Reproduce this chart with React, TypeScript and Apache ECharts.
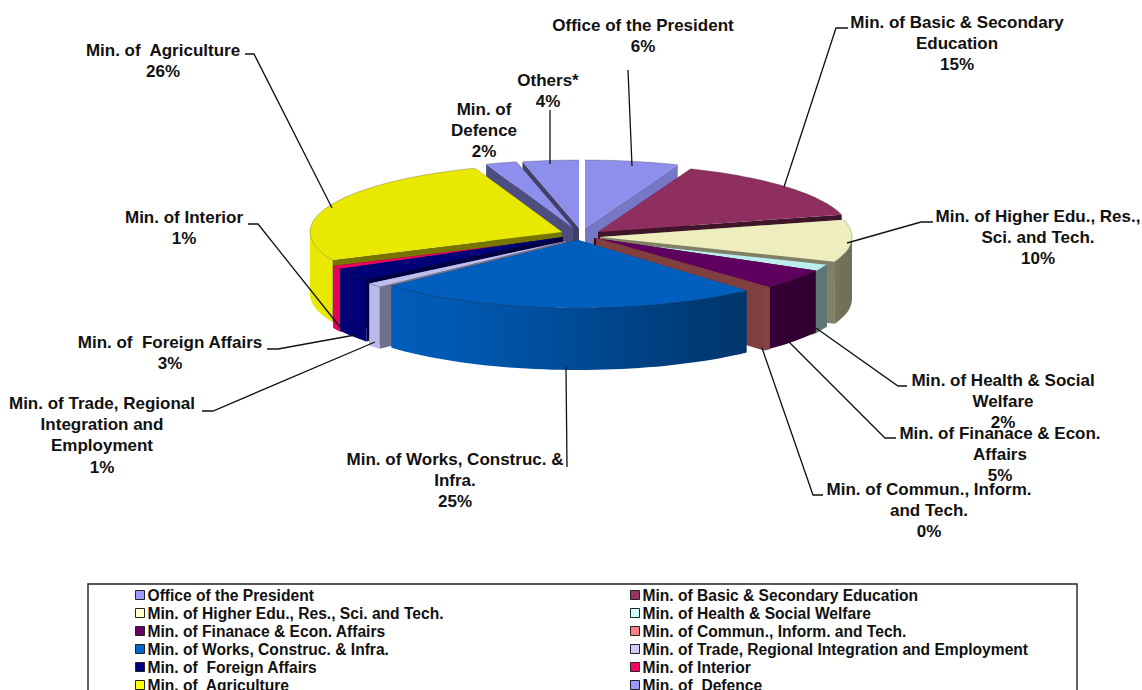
import React, { useEffect, useRef } from "react";
import * as echarts from "echarts";

const names = [
  "Office of the President",
  "Min. of Basic & Secondary Education",
  "Min. of Higher Edu., Res., Sci. and Tech.",
  "Min. of Health & Social Welfare",
  "Min. of Finanace & Econ. Affairs",
  "Min. of Commun., Inform. and Tech.",
  "Min. of Works, Construc. & Infra.",
  "Min. of Trade, Regional Integration and Employment",
  "Min. of  Foreign Affairs",
  "Min. of Interior",
  "Min. of  Agriculture",
  "Min. of  Defence",
  "Others*",
];
const values = [6, 14.9, 10, 2, 5, 0.45, 24.9, 1, 3, 1, 26.15, 2, 3.6];
const colors = ["#9999ff", "#993366", "#ffffcc", "#ccffff", "#660066", "#ff8080", "#0066cc", "#ccccff", "#000080", "#ff0066", "#ffff00", "#9999ff", "#9999ff"];
const labelTexts = [
  "Office of the President",
  "Min. of Basic & Secondary\nEducation",
  "Min. of Higher Edu., Res.,\nSci. and Tech.",
  "Min. of Health & Social\nWelfare",
  "Min. of Finanace & Econ.\nAffairs",
  "Min. of Commun., Inform.\nand Tech.",
  "Min. of Works, Construc. &\nInfra.",
  "Min. of Trade, Regional\nIntegration and\nEmployment",
  "Min. of  Foreign Affairs",
  "Min. of Interior",
  "Min. of  Agriculture",
  "Min. of\nDefence",
  "Others*",
];

// slice centres after explosion, label anchors and leader lines (layout)
const centers = [[585, 228], [598, 232], [600, 237], [592, 240], [594, 238], [596, 238], [578, 240], [566, 241], [563, 237], [563, 238], [562, 232], [573, 228], [579, 228]];
const wallShades = [0.78, 0.42, 0.5, 0.5, 0.5, 0.5, 0.5, 0.55, 0.5, 0.5, 0.46, 0.5, 0.42];
const topShades = [0.93, 0.93, 0.93, 0.93, 0.93, 0.5, 0.93, 0.93, 0.93, 0.93, 0.91, 0.93, 0.93];
const labelAnchors = [[643, 25], [957, 22], [1038, 216], [1003, 380], [1000, 433], [929, 489], [455, 459], [102, 403], [170, 342], [184, 217], [163, 50], [484, 109], [548, 80]];
const leaders = [
  [[628, 70], [632, 166]],
  [[848, 28], [836, 28], [784, 187]],
  [[933, 222], [921, 222], [847, 243]],
  [[907, 386], [898, 386], [816, 328]],
  [[896, 438], [885, 438], [788, 341]],
  [[823, 495], [813, 495], [762, 348]],
  [[567, 467], [566, 367]],
  [[202, 411], [213, 411], [375, 342]],
  [[267, 349], [278, 349], [355, 335]],
  [[248, 224], [258, 224], [340, 327]],
  [[245, 54], [254, 54], [332, 208]],
  [],
  [[550, 110], [550, 164]],
];

const RX = 252;
const RY = 68;
const DEPTH = 62;
const FONT = '"Liberation Sans", Arial, sans-serif';
const LABEL_SIZE = 17;
const LEGEND_SIZE = 15.6;

const total = values.reduce((a, b) => a + b, 0);
const starts: number[] = [];
values.reduce((acc, v, i) => {
  starts[i] = (acc / total) * 360;
  return acc + v;
}, 0);

function shade(hex: string, f: number) {
  const n = parseInt(hex.slice(1), 16);
  const c = [(n >> 16) & 255, (n >> 8) & 255, n & 255].map((v) => Math.round(v * f));
  return `rgb(${c[0]},${c[1]},${c[2]})`;
}
const rad = (d: number) => (d * Math.PI) / 180;
const sideLight = (deg: number) => Math.min(0.91, 0.72 - 0.28 * Math.sin(rad(deg)));

function arcPoints(cx: number, cy: number, a: number, b: number, dy = 0) {
  const pts: number[][] = [];
  const n = Math.max(2, Math.ceil((b - a) / 2));
  for (let i = 0; i <= n; i++) {
    const t = rad(a + ((b - a) * i) / n);
    pts.push([cx + RX * Math.sin(t), cy - RY * Math.cos(t) + dy]);
  }
  return pts;
}

function renderSlice(index: number) {
  return (_params: any, api: any) => {
    const a = starts[index];
    const b = a + (api.value(0) / total) * 360;
    const [cx, cy] = centers[index];
    const col = colors[index];
    const children: any[] = [];
    const wallFill = shade(col, wallShades[index]);
    [a, b].forEach((ang) => {
      const [p] = arcPoints(cx, cy, ang, ang + 0.001);
      children.push({
        type: "polygon",
        shape: { points: [[cx, cy], p, [p[0], p[1] + DEPTH], [cx, cy + DEPTH]] },
        style: { fill: wallFill },
      });
    });
    const sa = Math.max(a, 90);
    const sb = Math.min(b, 270);
    if (sb > sa) {
      const top = arcPoints(cx, cy, sa, sb);
      const bottom = arcPoints(cx, cy, sa, sb, DEPTH).reverse();
      const stops: any[] = [];
      for (let i = 0; i <= 6; i++) {
        const ang = sb + ((sa - sb) * i) / 6;
        stops.push({ offset: i / 6, color: shade(col, sideLight(ang)) });
      }
      children.push({
        type: "polygon",
        shape: { points: top.concat(bottom) },
        style: { fill: new echarts.graphic.LinearGradient(0, 0, 1, 0, stops) },
      });
    }
    const rim = arcPoints(cx, cy, a, b);
    children.push({
      type: "polygon",
      shape: { points: [[cx, cy], ...rim] },
      style: { fill: shade(col, topShades[index]) },
    });
    children.push({
      type: "polyline",
      shape: { points: rim },
      style: { fill: null, stroke: "rgba(50,50,50,0.35)", lineWidth: 0.8 },
    });
    return { type: "group", children };
  };
}

const midCos = (i: number) => Math.cos(rad(starts[i] + ((values[i] / total) * 360) / 2));
const drawOrder = values.map((_, i) => i).sort((p, q) => midCos(q) - midCos(p));

function legendFor(idx: number[], left: number) {
  return {
    orient: "vertical",
    left,
    top: 587,
    height: 200,
    padding: 0,
    itemWidth: 9,
    itemHeight: 9,
    itemGap: 2,
    icon: "rect",
    selectedMode: false,
    textStyle: { fontFamily: FONT, fontSize: LEGEND_SIZE, fontWeight: "bold", color: "#111", padding: [0, 0, 0, -2], lineHeight: 16 },
    data: idx.map((i) => ({
      name: names[i],
      itemStyle: { color: colors[i], borderColor: "#222", borderWidth: 1 },
    })),
  };
}

export default function App() {
  const ref = useRef<HTMLDivElement>(null);
  useEffect(() => {
    document.body.style.margin = "0";
    const chart = echarts.init(ref.current!, null, { renderer: "svg" });
    const graphics: any[] = [
      {
        type: "rect",
        z: 1,
        shape: { x: 88, y: 584, width: 989, height: 130 },
        style: { fill: "none", stroke: "#222", lineWidth: 1.4 },
      },
    ];
    leaders.forEach((pts) => {
      if (pts.length)
        graphics.push({
          type: "polyline",
          z: 20,
          shape: { points: pts },
          style: { fill: null, stroke: "#111", lineWidth: 1.3 },
        });
    });
    labelTexts.forEach((t, i) => {
      graphics.push({
        type: "text",
        z: 21,
        x: labelAnchors[i][0],
        y: labelAnchors[i][1] - 10.5,
        style: {
          text: `${t}\n${Math.round(values[i])}%`,
          fill: "#111",
          fontFamily: FONT,
          fontSize: LABEL_SIZE,
          fontWeight: "bold",
          lineHeight: 21.3,
          textAlign: "center",
          textVerticalAlign: "top",
        },
      });
    });
    chart.setOption({
      animation: false,
      backgroundColor: "#fff",
      legend: [legendFor([0, 2, 4, 6, 8, 10], 135), legendFor([1, 3, 5, 7, 9, 11], 630)],
      series: drawOrder.map((i) => ({
        type: "custom",
        name: names[i],
        coordinateSystem: "none",
        renderItem: renderSlice(i),
        itemStyle: { color: colors[i] },
        silent: true,
        data: [[values[i]]],
      })),
      graphic: { elements: graphics },
    });
    return () => chart.dispose();
  }, []);
  return <div ref={ref} style={{ width: 1142, height: 690 }} />;
}
